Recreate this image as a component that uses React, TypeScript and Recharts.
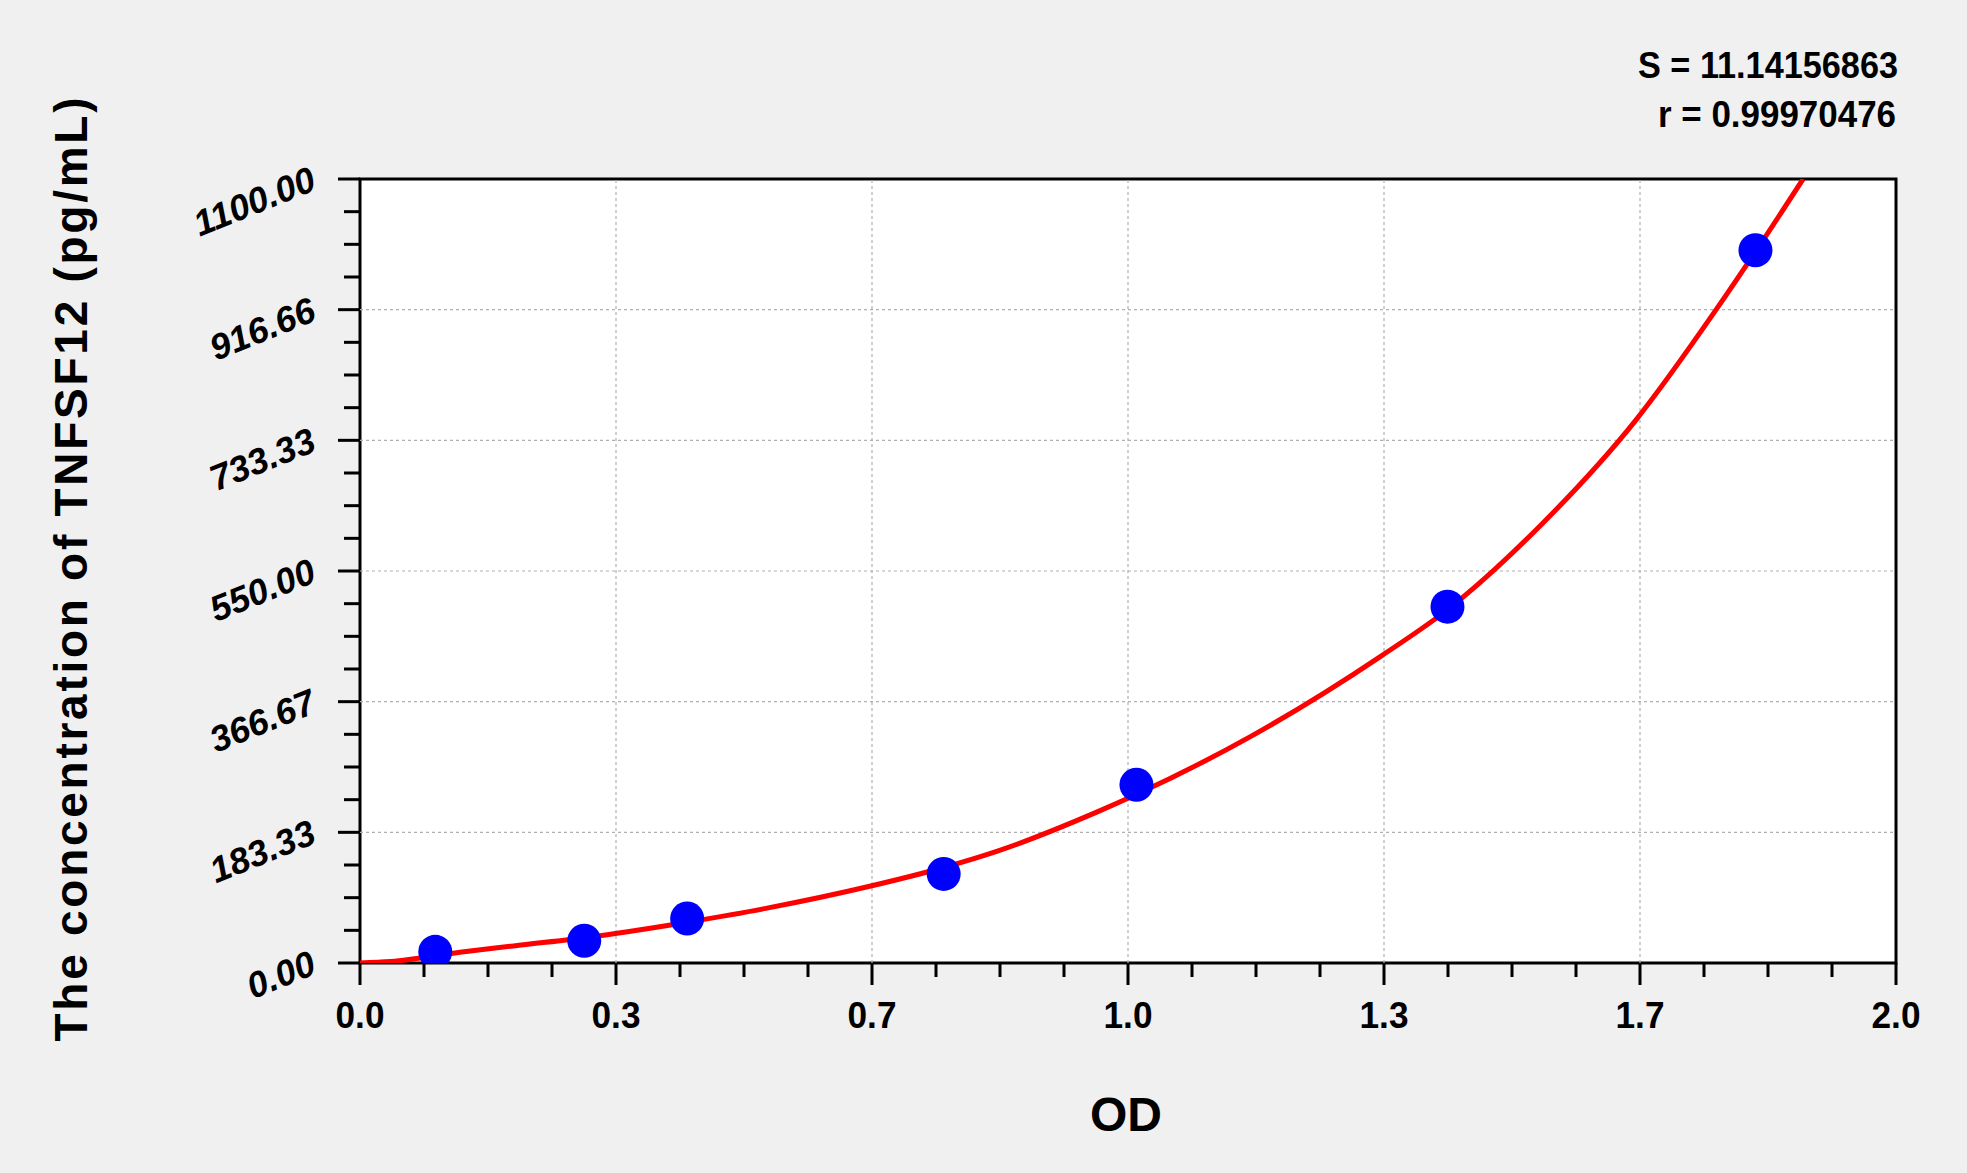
import React from "react";
import {
  ComposedChart,
  Line,
  Scatter,
  XAxis,
  YAxis,
  ReferenceLine,
  ReferenceArea,
} from "recharts";

// standard points (OD vs concentration)
const odValues = [0.098, 0.292, 0.426, 0.76, 1.011, 1.416, 1.817];
const concValues = [15.63, 31.25, 62.5, 125, 250, 500, 1000];

// fitted curve
const curveOd = [0, 0.04, 0.13, 0.2, 0.31, 0.43, 0.53, 0.665, 0.76, 0.83, 0.96, 1.01, 1.16, 1.33, 1.42, 1.54, 1.66, 1.766, 1.817, 1.879];
const curveConc = [0, 2, 15, 24, 38, 58, 77, 108, 134, 157, 212, 236, 318, 431, 499, 617, 760, 917, 998, 1100];

const xMajorTicks = [0, 1 / 3, 2 / 3, 1, 4 / 3, 5 / 3, 2];
const xTickLabels = ["0.0", "0.3", "0.7", "1.0", "1.3", "1.7", "2.0"];
const yMajorTicks = [0, 183.333, 366.667, 550, 733.333, 916.667, 1100];
const yTickLabels = ["0.00", "183.33", "366.67", "550.00", "733.33", "916.66", "1100.00"];

const S_TEXT = "S = 11.14156863";
const R_TEXT = "r = 0.99970476";

const points = odValues.map((x, i) => ({ x, y: concValues[i] }));
const curve = curveOd.map((x, i) => ({ x, y: curveConc[i] }));

const withMinor = (majors: number[]) => {
  const out: number[] = [];
  majors.forEach((m, i) => {
    out.push(m);
    if (i < majors.length - 1) {
      const step = (majors[i + 1] - m) / 4;
      for (let k = 1; k < 4; k++) out.push(m + k * step);
    }
  });
  return out;
};

const majorIndex = (majors: number[], v: number) =>
  majors.findIndex((m) => Math.abs(m - v) < 1e-6);

const FONT = "'Liberation Sans', Arial, sans-serif";

const XTick = (props: any) => {
  const { x, y, payload } = props;
  const i = majorIndex(xMajorTicks, payload.value);
  const len = i >= 0 ? 22 : 14;
  return (
    <g>
      <line x1={x} y1={y} x2={x} y2={y + len} stroke="#000" strokeWidth={3} />
      {i >= 0 && (
        <text
          x={x}
          y={y + 65}
          textAnchor="middle"
          fontFamily={FONT}
          fontWeight="bold"
          fontSize={37}
          textLength={49}
          lengthAdjust="spacingAndGlyphs"
          fill="#000"
        >
          {xTickLabels[i]}
        </text>
      )}
    </g>
  );
};

const YTick = (props: any) => {
  const { x, y, payload } = props;
  const i = majorIndex(yMajorTicks, payload.value);
  const len = i >= 0 ? 22 : 16;
  const tx = x - 42;
  const ty = y + 10;
  return (
    <g>
      <line x1={x} y1={y} x2={x - len} y2={y} stroke="#000" strokeWidth={3} />
      {i >= 0 && (
        <text
          x={tx}
          y={ty}
          textAnchor="end"
          transform={`rotate(-22 ${tx} ${ty})`}
          fontFamily={FONT}
          fontWeight="bold"
          fontStyle="italic"
          fontSize={36}
          fill="#000"
        >
          {yTickLabels[i]}
        </text>
      )}
    </g>
  );
};

const Dot = (props: any) => <circle cx={props.cx} cy={props.cy} r={17} fill="#0000ff" />;

export default function App() {
  return (
    <div style={{ position: "absolute", left: 0, top: 0, width: 1967, height: 1173, background: "#f0f0f0" }}>
      <ComposedChart
        width={1967}
        height={1173}
        margin={{ top: 179, right: 71, bottom: 110, left: 260 }}
      >
        <XAxis
          type="number"
          dataKey="x"
          domain={[0, 2]}
          ticks={withMinor(xMajorTicks)}
          interval={0}
          tickSize={0}
          tickMargin={0}
          axisLine={false}
          tickLine={false}
          tick={<XTick />}
          height={100}
          allowDataOverflow
        />
        <YAxis
          type="number"
          dataKey="y"
          domain={[0, 1100]}
          ticks={withMinor(yMajorTicks)}
          interval={0}
          tickSize={0}
          tickMargin={0}
          axisLine={false}
          tickLine={false}
          tick={<YTick />}
          width={100}
          allowDataOverflow
        />
        <ReferenceArea x1={0} x2={2} y1={0} y2={1100} fill="#ffffff" fillOpacity={1} stroke="none" />
        {xMajorTicks.slice(1, -1).map((v) => (
          <ReferenceLine key={`vx${v}`} x={v} stroke="#b0b0b0" strokeWidth={1.2} strokeDasharray="3 3" />
        ))}
        {yMajorTicks.slice(1, -1).map((v) => (
          <ReferenceLine key={`hy${v}`} y={v} stroke="#b0b0b0" strokeWidth={1.2} strokeDasharray="3 3" />
        ))}
        <Scatter data={points} dataKey="y" shape={<Dot />} isAnimationActive={false} />
        <Line
          data={curve}
          dataKey="y"
          type="monotone"
          stroke="#ff0000"
          strokeWidth={5}
          dot={false}
          activeDot={false}
          isAnimationActive={false}
        />
        <ReferenceArea x1={0} x2={2} y1={0} y2={1100} fill="none" fillOpacity={0} stroke="#000" strokeWidth={3} />
      </ComposedChart>
      <svg
        width={1967}
        height={1173}
        style={{ position: "absolute", left: 0, top: 0, pointerEvents: "none" }}
      >
        <text x={1898} y={78} textAnchor="end" fontFamily={FONT} fontWeight="bold" fontSize={37} textLength={260} lengthAdjust="spacingAndGlyphs">
          {S_TEXT}
        </text>
        <text x={1896} y={127} textAnchor="end" fontFamily={FONT} fontWeight="bold" fontSize={37} textLength={238} lengthAdjust="spacingAndGlyphs">
          {R_TEXT}
        </text>
        <text x={1126} y={1131} textAnchor="middle" fontFamily={FONT} fontWeight="bold" fontSize={48}>
          OD
        </text>
        <text
          x={87}
          y={569.5}
          textAnchor="middle"
          transform="rotate(-90 87 569.5)"
          fontFamily={FONT}
          fontWeight="bold"
          fontSize={46}
          textLength={944}
        >
          The concentration of TNFSF12 (pg/mL)
        </text>
      </svg>
    </div>
  );
}
